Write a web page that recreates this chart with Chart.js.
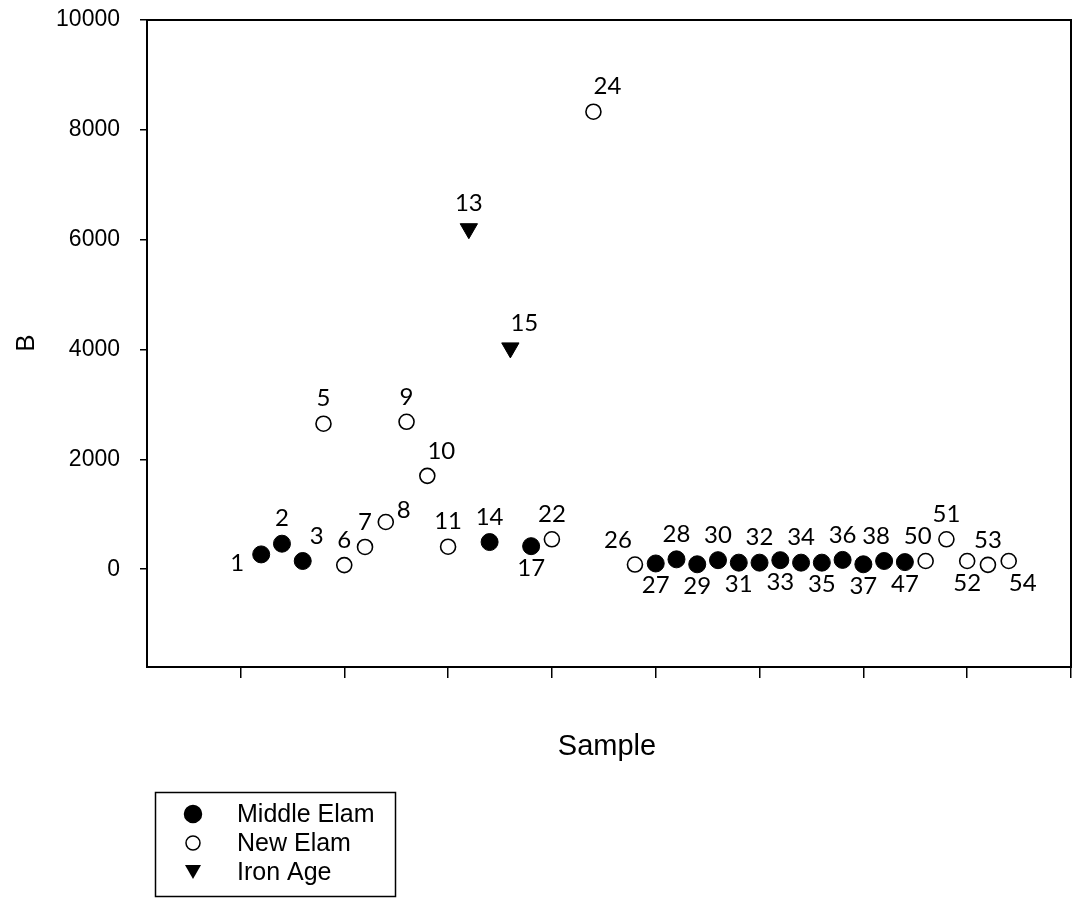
<!DOCTYPE html>
<html>
<head>
<meta charset="utf-8">
<script src="https://cdn.jsdelivr.net/npm/chart.js@4.4.0/dist/chart.umd.min.js"></script>
<style>
  html, body { margin: 0; padding: 0; background: #fff; }
  #wrap { width: 1074px; height: 899px; }
</style>
</head>
<body>
<div id="wrap"><canvas id="myChart" width="1074" height="899"></canvas></div>
<script>
// sample numbers, their order along the x axis, and B values
const middleSamples = [1, 2, 3, 14, 17, 27, 28, 29, 30, 31, 32, 33, 34, 35, 36, 37, 38, 47];
const middleOrder   = [1, 2, 3, 12, 14, 20, 21, 22, 23, 24, 25, 26, 27, 28, 29, 30, 31, 32];
const middleB       = [270, 465, 150, 495, 420, 105, 180, 90, 165, 120, 120, 165, 120, 120, 170, 90, 150, 130];

const newSamples = [5, 6, 7, 8, 9, 10, 11, 22, 24, 26, 50, 51, 52, 53, 54];
const newOrder   = [4, 5, 6, 7, 8, 9, 10, 15, 17, 19, 33, 34, 35, 36, 37];
const newB       = [2650, 75, 405, 860, 2685, 1700, 410, 545, 8330, 85, 150, 545, 150, 80, 150];

const ironSamples = [13, 15];
const ironOrder   = [11, 13];
const ironB       = [6200, 4030];

const yTicks = [0, 2000, 4000, 6000, 8000, 10000];
const xTicks = [0, 5, 10, 15, 20, 25, 30, 35, 40];

// where each sample number sits relative to its marker
const labelSide = {
    1: 'W', 2: 'N', 3: 'NE', 5: 'N', 6: 'N', 7: 'N', 8: 'E', 9: 'N', 10: 'NE', 11: 'N',
    13: 'N', 14: 'N', 15: 'NE', 17: 'S', 22: 'N', 24: 'NE', 26: 'NW',
    27: 'S', 28: 'N', 29: 'S', 30: 'N', 31: 'S', 32: 'N', 33: 'S', 34: 'N', 35: 'S',
    36: 'N', 37: 'S', 38: 'NNW', 47: 'S', 50: 'NNW', 51: 'N', 52: 'S', 53: 'N', 54: 'SE'
};
const sideOffset = {
    N: [0, -25], S: [0, 22], W: [-24, 9], E: [18, -12],
    NE: [14, -25], NW: [-17, -24], NNW: [-8, -25], SE: [14, 22]
};

const toPoints = (order, vals) => order.map((o, i) => ({ x: o, y: vals[i] }));

const sampleLabels = {
    id: 'sampleLabels',
    afterDatasetsDraw(chart) {
        const ctx = chart.ctx;
        const ids = [middleSamples, newSamples, ironSamples];
        ctx.save();
        ctx.font = '24px Lato, "Open Sans", sans-serif';
        ctx.fillStyle = '#000';
        ctx.textAlign = 'center';
        ctx.textBaseline = 'middle';
        chart.data.datasets.forEach((ds, d) => {
            chart.getDatasetMeta(d).data.forEach((pt, i) => {
                const num = ids[d][i];
                const off = sideOffset[labelSide[num] || 'N'];
                ctx.fillText(String(num), pt.x + off[0], pt.y + off[1]);
            });
        });
        ctx.restore();
    }
};

const frameAndText = {
    id: 'frameAndText',
    afterDraw(chart) {
        const ctx = chart.ctx;
        const a = chart.chartArea;
        ctx.save();
        // plot frame
        ctx.strokeStyle = '#000';
        ctx.lineWidth = 2;
        ctx.strokeRect(a.left, a.top, a.right - a.left, a.bottom - a.top);

        // axis titles
        ctx.fillStyle = '#000';
        ctx.textAlign = 'center';
        ctx.textBaseline = 'middle';
        ctx.font = '29px "Liberation Sans", Arial, sans-serif';
        ctx.fillText('Sample', 607, 747);
        ctx.save();
        ctx.translate(27, 343);
        ctx.rotate(-Math.PI / 2);
        ctx.font = '26px "Liberation Sans", Arial, sans-serif';
        ctx.fillText('B', 0, 0);
        ctx.restore();

        // legend box
        ctx.lineWidth = 1.5;
        ctx.strokeRect(155.5, 792.5, 240, 104);
        ctx.font = '25px "Liberation Sans", Arial, sans-serif';
        ctx.textAlign = 'left';
        const rows = [814, 843, 872];
        chart.data.datasets.forEach((ds, d) => {
            const y = rows[d];
            ctx.fillStyle = ds.backgroundColor;
            ctx.strokeStyle = '#000';
            ctx.lineWidth = 1.5;
            if (ds.pointStyle === 'triangle') {
                ctx.beginPath();
                ctx.moveTo(185, y - 7);
                ctx.lineTo(201, y - 7);
                ctx.lineTo(193, y + 7);
                ctx.closePath();
                ctx.fillStyle = '#000';
                ctx.fill();
            } else {
                ctx.beginPath();
                ctx.arc(193, y, d === 0 ? 8.5 : 7, 0, Math.PI * 2);
                ctx.fill();
                ctx.stroke();
            }
            ctx.fillStyle = '#000';
            ctx.fillText(ds.label, 237, y + 1);
        });
        ctx.restore();
    }
};

const ctx = document.getElementById('myChart').getContext('2d');

new Chart(ctx, {
    type: 'scatter',
    data: {
        datasets: [{
            label: 'Middle Elam',
            data: toPoints(middleOrder, middleB),
            pointStyle: 'circle',
            pointRadius: 8.5,
            pointHoverRadius: 8.5,
            backgroundColor: '#000',
            borderColor: '#000',
            borderWidth: 1
        }, {
            label: 'New Elam',
            data: toPoints(newOrder, newB),
            pointStyle: 'circle',
            pointRadius: 7.5,
            pointHoverRadius: 7.5,
            backgroundColor: '#fff',
            borderColor: '#000',
            borderWidth: 1.6
        }, {
            label: 'Iron Age',
            data: toPoints(ironOrder, ironB),
            pointStyle: 'triangle',
            pointRotation: 180,
            pointRadius: 10,
            pointHoverRadius: 10,
            backgroundColor: '#000',
            borderColor: '#000',
            borderWidth: 1
        }]
    },
    options: {
        responsive: false,
        animation: false,
        events: [],
        layout: { autoPadding: false, padding: { top: 20, right: 3, left: 0, bottom: 0 } },
        plugins: {
            legend: { display: false },
            tooltip: { enabled: false }
        },
        scales: {
            x: {
                type: 'linear',
                min: -4.5,
                max: 40,
                afterBuildTicks: s => { s.ticks = xTicks.map(v => ({ value: v })); },
                afterFit: s => { s.height = 232; s.paddingLeft = 0; s.paddingRight = 0; },
                ticks: { display: false },
                border: { display: false },
                grid: {
                    drawOnChartArea: false,
                    drawTicks: true,
                    tickLength: 11,
                    color: '#000',
                    lineWidth: 1.5
                }
            },
            y: {
                min: -1780,
                max: 10000,
                afterBuildTicks: s => { s.ticks = yTicks.map(v => ({ value: v })); },
                afterFit: s => { s.width = 147; s.paddingTop = 0; s.paddingBottom = 0; },
                border: { display: false },
                grid: {
                    drawOnChartArea: false,
                    drawTicks: true,
                    tickLength: 7,
                    color: '#000',
                    lineWidth: 1.5
                },
                ticks: {
                    color: '#000',
                    padding: 20,
                    callback: v => String(v),
                    font: { family: '"Liberation Sans", Arial, sans-serif', size: 23 }
                }
            }
        }
    },
    plugins: [sampleLabels, frameAndText]
});
</script>
</body>
</html>
